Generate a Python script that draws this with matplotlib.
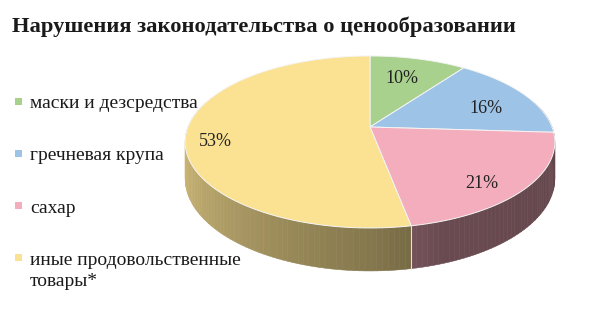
import numpy as np
import matplotlib
matplotlib.use("Agg")
import matplotlib.pyplot as plt
from matplotlib.patches import Polygon, Rectangle
from matplotlib.collections import PolyCollection

# data
title = "Нарушения законодательства о ценообразовании"
categories = ["маски и дезсредства", "гречневая крупа", "сахар",
              "иные продовольственные\nтовары*"]
shares = [10, 16, 21, 53]
colors = ["#A9D18E", "#9DC3E6", "#F4ADBC", "#FBE192"]

plt.rcParams['font.family'] = ['Liberation Serif', 'DejaVu Serif']

# pie geometry (pixels of the 591x320 canvas)
xc, yc = 370, 127
A, B = 182, 83.4      # half axes of the top face
p = 0.174             # perspective: front looks bigger than back
h = 35.5              # thickness


def proj(theta, r=1.0, dz=0.0):
    x = r * np.cos(theta)
    y = r * np.sin(theta)
    d = 1 + p * y
    return xc + A * x / d, yc - B * y / d + dz / d


def side_shade(theta):
    a = np.degrees(theta) % 360
    if a < 90:
        a += 360
    return np.interp(a, [180, 270, 290, 360], [0.86, 0.53, 0.43, 0.40])


fig = plt.figure(figsize=(5.91, 3.2), dpi=100)
ax = fig.add_axes([0, 0, 1, 1])
ax.set_xlim(0, 591)
ax.set_ylim(320, 0)
ax.axis('off')

fracs = np.array(shares) / sum(shares)
ends = 90 - 360 * np.cumsum(fracs)
starts = np.concatenate([[90], ends[:-1]])

# sides
quads, qcols, depth = [], [], []
for s, e, col in zip(starts, ends, colors):
    base = np.array(matplotlib.colors.to_rgb(col))
    ts = np.radians(np.linspace(s, e, max(int(abs(s - e) / 1.5), 2) + 1))
    for t0, t1 in zip(ts[:-1], ts[1:]):
        tm = (t0 + t1) / 2
        if np.sin(tm) > 0.3:
            continue
        x0, y0 = proj(t0)
        x1, y1 = proj(t1)
        x2, y2 = proj(t1, dz=h)
        x3, y3 = proj(t0, dz=h)
        quads.append([(x0, y0), (x1, y1), (x2, y2), (x3, y3)])
        qcols.append(np.clip(base * side_shade(tm), 0, 1))
        depth.append(np.sin(tm))
order = np.argsort(depth)[::-1]
ax.add_collection(PolyCollection([quads[i] for i in order],
                                 facecolors=[qcols[i] for i in order],
                                 edgecolors=[qcols[i] for i in order],
                                 linewidths=0.4))

# seam lines on the side where slices meet
for e in ends:
    t = np.radians(e)
    if np.sin(t) < -p:
        xa, ya = proj(t)
        xb, yb = proj(t, dz=h)
        ax.plot([xa, xb], [ya, yb], color="#E8E0D0", lw=0.8)

# top face
for s, e, col in zip(starts, ends, colors):
    ts = np.radians(np.linspace(s, e, 200))
    xs, ys = proj(ts)
    pts = [(xc, yc)] + list(zip(xs, ys))
    ax.add_patch(Polygon(pts, closed=True, facecolor=col,
                         edgecolor="#F4F4F4", lw=0.7))

# percentage labels
for s, e, v in zip(starts, ends, shares):
    t = np.radians((s + e) / 2)
    lx, ly = proj(t, r=0.8)
    ax.text(lx - 8, ly + 8, f"{v}%", ha='center', va='center',
            fontsize=13, color="#222222")

# title
ax.text(12, 27, title, fontsize=16.2, fontweight='bold', va='center',
        color="#1a1a1a")

# legend
for i, (name, col) in enumerate(zip(categories, colors)):
    y = 101 + i * 52.3
    ax.add_patch(Rectangle((15, y - 3.5), 7, 7, facecolor=col,
                           edgecolor='none'))
    ax.text(30, y - 6, name, fontsize=14, va='top', color="#1a1a1a",
            linespacing=1.35)

fig.savefig("out.png", dpi=100)
